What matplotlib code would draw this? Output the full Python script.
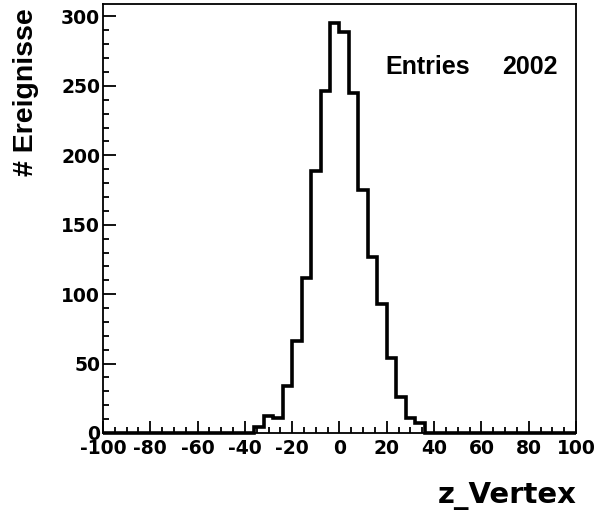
import numpy as np
import matplotlib.pyplot as plt
from matplotlib.ticker import MultipleLocator

# z-vertex histogram, 50 bins from -100 to 100
bin_lo, bin_hi, n_bins = -100, 100, 50
counts = [0] * 16 + [4, 12, 11, 34, 66, 112, 189, 246, 295,
                     289, 245, 175, 127, 93, 54, 26, 11, 7] + [0] * 16
entries = 2002

plt.rcParams['font.family'] = ['Liberation Sans', 'DejaVu Sans']
plt.rcParams['font.weight'] = 'bold'
plt.rcParams['axes.unicode_minus'] = False

fig = plt.figure(figsize=(5.95, 5.14), dpi=100)
ax = fig.add_axes([103 / 595, 1 - 433 / 514, (576 - 103) / 595, (433 - 4) / 514])

edges = np.linspace(bin_lo, bin_hi, n_bins + 1)
ax.stairs(counts, edges, color='black', linewidth=2.6, clip_on=False, zorder=3)

ax.set_xlim(bin_lo, bin_hi)
ax.set_ylim(0, 309)

ax.xaxis.set_major_locator(MultipleLocator(20))
ax.xaxis.set_minor_locator(MultipleLocator(5))
ax.yaxis.set_major_locator(MultipleLocator(50))
ax.yaxis.set_minor_locator(MultipleLocator(10))
ax.tick_params(which='both', direction='in', top=False, right=False, width=1.3)
ax.tick_params(axis='x', which='major', length=9, pad=4.5)
ax.tick_params(axis='x', which='minor', length=4)
ax.tick_params(axis='y', which='major', length=9, pad=2)
ax.tick_params(axis='y', which='minor', length=4.5)
for lab in ax.get_xticklabels() + ax.get_yticklabels():
    lab.set_fontfamily('DejaVu Sans')
    lab.set_fontsize(13.5)
    lab.set_fontweight('bold')
for sp in ax.spines.values():
    sp.set_linewidth(1.3)

# Achsentitel
fig.text(26 / 595, 1 - 8 / 514, '# Ereignisse', rotation=90, ha='center', va='top',
         fontsize=20.5, fontweight='bold')
fig.text(577 / 595, 1 - 496 / 514, 'z_Vertex', ha='right', va='center',
         fontsize=21, fontweight='bold', family='DejaVu Sans')

# Statistik
fig.text(385 / 595, 1 - 67 / 514, 'Entries', ha='left', va='center',
         fontsize=18, fontweight='bold')
fig.text(558 / 595, 1 - 67 / 514, str(entries), ha='right', va='center',
         fontsize=18, fontweight='bold')

fig.savefig('out.png', dpi=100)
